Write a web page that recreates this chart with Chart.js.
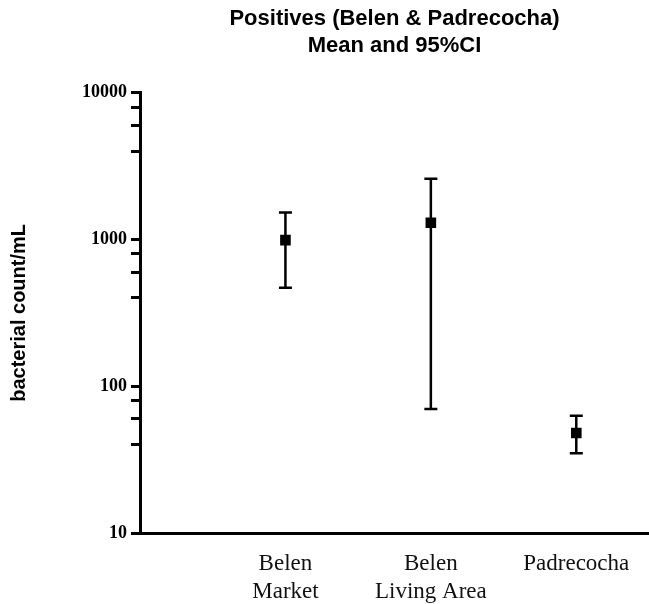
<!DOCTYPE html>
<html>
<head>
<meta charset="utf-8">
<script src="https://cdn.jsdelivr.net/npm/chart.js@4.4.1/dist/chart.umd.min.js"></script>
<style>
  html, body { margin: 0; padding: 0; background: #fff; }
  #wrap { width: 649px; height: 604px; }
</style>
</head>
<body>
<div id="wrap"><canvas id="ciChart"></canvas></div>
<script>
// Data (bacterial count/mL, log scale)
const categories = [["Belen", "Market"], ["Belen", "Living Area"], ["Padrecocha"]];
const means = [990, 1300, 48];
const lowerCI = [470, 70, 35];
const upperCI = [1530, 2600, 63];
const yTicks = [10, 40, 60, 80, 100, 400, 600, 800, 1000, 4000, 6000, 8000, 10000];
const yLabels = [10, 100, 1000, 10000];

//draws the 95% CI whiskers under the mean markers
const errorBars = {
    id: 'errorBars',
    beforeDatasetsDraw(chart) {
        const ctx = chart.ctx;
        const xs = chart.scales.x;
        const ys = chart.scales.y;
        ctx.save();
        ctx.strokeStyle = '#000';
        ctx.lineWidth = 2.5;
        categories.forEach((c, i) => {
            const x = xs.getPixelForValue(i);
            const yl = ys.getPixelForValue(lowerCI[i]);
            const yu = ys.getPixelForValue(upperCI[i]);
            ctx.beginPath();
            ctx.moveTo(x, yl);
            ctx.lineTo(x, yu);
            ctx.moveTo(x - 6.5, yl);
            ctx.lineTo(x + 6.5, yl);
            ctx.moveTo(x - 6.5, yu);
            ctx.lineTo(x + 6.5, yu);
            ctx.stroke();
        });
        ctx.restore();
    }
};

const ciChart = new Chart(
    document.getElementById('ciChart'),
    {
        type: 'scatter',
        data: {
            datasets: [{
                label: 'Mean',
                data: means.map((m, i) => ({ x: i, y: m })),
                backgroundColor: '#000',
                borderWidth: 0,
                pointStyle: 'rect',
                pointRadius: 7.5,
                pointHoverRadius: 7.5,
            }]
        },
        options: {
            responsive: true,
            maintainAspectRatio: false,
            animation: false,
            layout: {
                autoPadding: false,
                padding: { left: 0, right: 0, top: 4, bottom: 0 }
            },
            plugins: {
                legend: { display: false },
                tooltip: { enabled: false },
                title: {
                    display: true,
                    fullSize: false,
                    text: ['Positives (Belen & Padrecocha)', 'Mean and 95%CI'],
                    color: '#000',
                    font: { family: 'Liberation Sans', size: 22, weight: 'bold', lineHeight: 1.2 },
                    padding: { top: 2, bottom: 34 }
                }
            },
            scales: {
                x: {
                    type: 'linear',
                    min: -1,
                    max: 2.5,
                    afterBuildTicks: (scale) => {
                        scale.ticks = categories.map((c, i) => ({ value: i }));
                    },
                    afterFit: (scale) => {
                        scale.height = 71;
                        scale.paddingRight = 0;
                        scale.paddingLeft = 0;
                    },
                    border: { display: true, color: '#000', width: 3 },
                    grid: { display: true, drawOnChartArea: false, drawTicks: false },
                    ticks: {
                        color: '#111',
                        padding: 17,
                        autoSkip: false,
                        maxRotation: 0,
                        font: { family: 'Liberation Serif', size: 23, lineHeight: 1.22 },
                        callback: (v) => categories[v] || ''
                    }
                },
                y: {
                    type: 'logarithmic',
                    min: 10,
                    max: 10000,
                    afterBuildTicks: (scale) => {
                        scale.ticks = yTicks.map(v => ({ value: v }));
                    },
                    afterFit: (scale) => { scale.width = 140; },
                    border: { display: true, color: '#000', width: 3 },
                    grid: {
                        display: true,
                        drawOnChartArea: false,
                        drawTicks: true,
                        tickLength: 9,
                        tickWidth: 3,
                        color: '#000'
                    },
                    ticks: {
                        color: '#000',
                        padding: 4,
                        autoSkip: false,
                        font: { family: 'Liberation Serif', size: 18, weight: 'bold' },
                        callback: (v) => yLabels.includes(v) ? String(v) : ''
                    },
                    title: {
                        display: true,
                        text: 'bacterial count/mL',
                        color: '#000',
                        font: { family: 'Liberation Sans', size: 20, weight: 'bold', lineHeight: 1.2 },
                        padding: { top: 7, bottom: 0 }
                    }
                }
            }
        },
        plugins: [errorBars]
    }
);
</script>
</body>
</html>
